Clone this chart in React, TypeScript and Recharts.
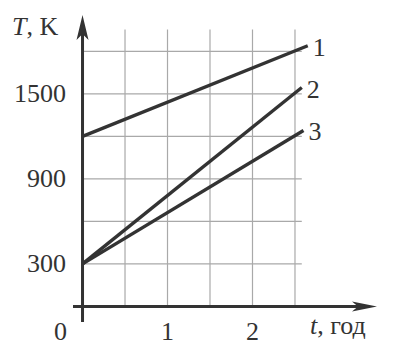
import { LineChart, Line, XAxis, YAxis, ReferenceLine, LabelList } from "recharts";

// time, years
const times1 = [0, 2.65];
const times2 = [0, 2.58];
const times3 = [0, 2.6];
// temperature, K
const temps1 = [1200, 1840];
const temps2 = [300, 1545];
const temps3 = [300, 1242];
const seriesNames = ["1", "2", "3"];

const xTicks = [0, 1, 2];
const yTicks = [300, 900, 1500];
const gridTimes = [0.5, 1, 1.5, 2, 2.5];
const gridTemps = [300, 600, 900, 1200, 1500, 1800];

const INK = "#333";
const FONT = "'Liberation Serif', 'DejaVu Serif', serif";
const FS = 26;

const toRows = (ts: number[], vs: number[]) => ts.map((t, i) => ({ t, T: vs[i] }));
const series = [toRows(times1, temps1), toRows(times2, temps2), toRows(times3, temps3)];

// axis line with an arrow head at the far end
const ArrowAxis = (dir: "up" | "right") => (props: any) => {
  const { x1, y1, x2, y2 } = props;
  if (dir === "up") {
    const x = x1;
    const top = Math.min(y1, y2);
    const bottom = Math.max(y1, y2);
    return (
      <g>
        <line x1={x} y1={bottom} x2={x} y2={top + 18} stroke={INK} strokeWidth={3} />
        <polygon
          points={`${x},${top} ${x - 6},${top + 25} ${x},${top + 19} ${x + 6},${top + 25}`}
          fill={INK}
        />
      </g>
    );
  }
  const y = y1;
  const left = Math.min(x1, x2);
  const right = Math.max(x1, x2);
  return (
    <g>
      <line x1={left} y1={y} x2={right - 18} y2={y} stroke={INK} strokeWidth={3} />
      <polygon
        points={`${right},${y} ${right - 25},${y - 5} ${right - 19},${y} ${right - 25},${y + 5}`}
        fill={INK}
      />
    </g>
  );
};

const XTick = (props: any) => {
  const { x, y, payload } = props;
  const shift = payload.value === 0 ? -22 : 0;
  return (
    <text x={x + shift} y={y + 3} textAnchor="middle" dominantBaseline="central" fontFamily={FONT} fontSize={FS} fill={INK}>
      {payload.value}
    </text>
  );
};

const YTick = (props: any) => {
  const { x, y, payload } = props;
  return (
    <text x={x} y={y} textAnchor="end" dominantBaseline="central" fontFamily={FONT} fontSize={FS} fill={INK}>
      {payload.value}
    </text>
  );
};

const endLabel = (name: string, last: number) => (props: any) => {
  const { x, y, index } = props;
  if (index !== last) return null;
  return (
    <text x={x + 5} y={y + 1.5} textAnchor="start" dominantBaseline="central" fontFamily={FONT} fontSize={FS} fill={INK}>
      {name}
    </text>
  );
};

export default function App() {
  return (
    <div style={{ position: "absolute", left: 0, top: 0, width: 406, height: 363, background: "#fff" }}>
      <LineChart width={406} height={363} margin={{ top: 15, right: 29, left: 0, bottom: 0 }}>
        <XAxis
          type="number"
          dataKey="t"
          domain={[-0.112, 3.465]}
          allowDataOverflow
          ticks={xTicks}
          height={41}
          axisLine={false}
          tickLine={false}
          tickMargin={0}
          tick={<XTick />}
        />
        <YAxis
          type="number"
          domain={[-110, 2057]}
          allowDataOverflow
          ticks={yTicks}
          width={73}
          axisLine={false}
          tickLine={false}
          tickMargin={1}
          tick={<YTick />}
        />
        {gridTimes.map((t) => (
          <ReferenceLine
            key={`gx-${t}`}
            segment={[{ x: t, y: 0 }, { x: t, y: 1955 }]}
            stroke="#a9a9a9"
            strokeWidth={1.2}
          />
        ))}
        {gridTemps.map((v) => (
          <ReferenceLine
            key={`gy-${v}`}
            segment={[{ x: 0, y: v }, { x: 2.58, y: v }]}
            stroke="#a9a9a9"
            strokeWidth={1.2}
          />
        ))}
        {series.map((rows, i) => (
          <Line
            key={seriesNames[i]}
            data={rows}
            dataKey="T"
            stroke={INK}
            strokeWidth={3.4}
            dot={false}
            isAnimationActive={false}
          >
            <LabelList dataKey="T" content={endLabel(seriesNames[i], rows.length - 1)} />
          </Line>
        ))}
        <ReferenceLine x={0} shape={ArrowAxis("up")} />
        <ReferenceLine y={0} shape={ArrowAxis("right")} />
      </LineChart>
      <div
        style={{
          position: "absolute",
          left: 12,
          top: 13,
          fontFamily: FONT,
          fontSize: FS,
          color: INK,
          lineHeight: "28px",
          whiteSpace: "nowrap",
        }}
      >
        <i>T</i>, K
      </div>
      <div
        style={{
          position: "absolute",
          left: 310,
          top: 312,
          fontFamily: FONT,
          fontSize: FS,
          color: INK,
          lineHeight: "28px",
          whiteSpace: "nowrap",
        }}
      >
        <i>t</i>, год
      </div>
    </div>
  );
}
